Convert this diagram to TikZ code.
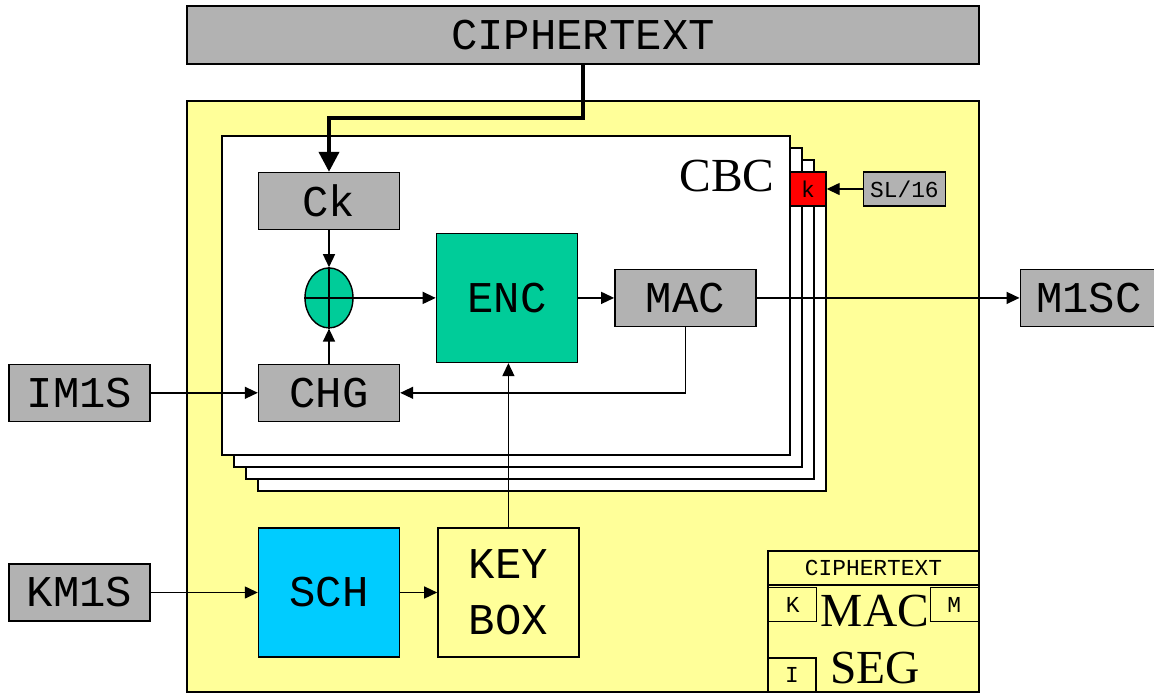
\documentclass[tikz,border=0pt]{standalone}
\usepackage{fontspec}
\setmainfont{Liberation Serif}
\setmonofont{Liberation Mono}
\usetikzlibrary{arrows.meta,positioning,shapes.geometric}
\definecolor{boxgray}{HTML}{B2B2B2}
\definecolor{panelyel}{HTML}{FFFF99}
\definecolor{enccol}{HTML}{00CC99}
\definecolor{schcol}{HTML}{00CCFF}
\newcommand{\bigtt}{\ttfamily\fontsize{25}{32}\selectfont}
\newcommand{\smalltt}{\ttfamily\fontsize{13}{15}\selectfont}
\newcommand{\bigrm}{\rmfamily\fontsize{27}{30}\selectfont}

\begin{document}
\begin{tikzpicture}[x=0.2mm, y=-0.2mm, line width=0.8pt,
  blk/.style={draw, fill=boxgray, minimum width=28.2mm, minimum height=11.4mm,
              font=\bigtt, inner sep=0pt},
  big/.style={draw, minimum width=28.2mm, minimum height=25.8mm,
              font=\bigtt, align=center, inner sep=0pt},
  tag/.style={draw, minimum height=6.8mm, font=\smalltt, inner sep=0pt},
  lbl/.style={font=\bigrm, inner sep=0pt},
  frame/.style={draw, fill=white},
  ar/.style={-{Triangle[length=2.6mm, width=2.4mm]}},
  thar/.style={-{Triangle[length=4mm, width=4mm]}, line width=2.3pt}]
\useasboundingbox (0,0) rectangle (1154,693);
\node[blk, minimum width=158.4mm, minimum height=11.6mm] (ct) at (583,35) {CIPHERTEXT};
\node[draw, fill=panelyel, minimum width=158.4mm, minimum height=118.2mm] (panel) at (583,396.5) {};
\foreach \i in {3,2,1,0}{\draw[frame] (222+12*\i,136+12*\i) rectangle ++(568,319);}
\node[lbl, anchor=base east] (cbc) at (775,191) {CBC};
\node[tag, fill=red, minimum width=7.2mm] (kk) at (808,189) {k};
\node[tag, fill=boxgray, minimum width=16.4mm, right=7.2mm of kk] (sl) {SL/16};
\node[blk] (ck) at (329,201) {Ck};
\node[draw, ellipse, fill=enccol, minimum width=9.6mm, minimum height=12mm,
      inner sep=0pt, below=7.4mm of ck] (xor) {};
\draw (xor.north) -- (xor.south) (xor.west) -- (xor.east);
\node[big, fill=enccol, right=16.4mm of xor] (enc) {ENC};
\node[blk, right=7.2mm of enc] (mac) {MAC};
\node[blk, minimum width=27.4mm, right=52.6mm of mac] (m1sc) {M1SC};
\node[blk, below=7mm of xor] (chg) {CHG};
\node[blk, left=21.4mm of chg] (im1s) {IM1S};
\node[big, fill=schcol] (sch) at (329,592.5) {SCH};
\node[big, fill=panelyel, right=7.4mm of sch] (keybox) {KEY\\BOX};
\node[blk, left=21.4mm of sch] (km1s) {KM1S};
\node[draw, fill=panelyel, minimum width=42.2mm, minimum height=28.2mm] (seg) at (873.5,621.5) {};
\node[tag, minimum width=42.2mm, anchor=north] (segct) at (seg.north) {CIPHERTEXT};
\node[tag, minimum width=9.6mm, anchor=north west] (segk) at (768,587) {K};
\node[tag, minimum width=9.6mm, anchor=north east] (segm) at (979,587) {M};
\node[tag, minimum width=9.6mm, anchor=south west] (segi) at (seg.south west) {I};
\node[lbl] (segmac) at (875,611) {MAC};
\node[lbl] (segseg) at (875,668) {SEG};
\coordinate (ctbend) at (329,118);
\draw[thar] (ct.south) |- (ctbend) -- (ck.north);
\draw[ar] (ck.south) -- (xor.north);
\draw[ar] (chg.north) -- (xor.south);
\draw[ar] (xor.east) -- (enc.west);
\draw[ar] (enc.east) -- (mac.west);
\draw[ar] (mac.east) -- (m1sc.west);
\draw[ar] (mac.south) |- (chg.east);
\draw[ar] (im1s.east) -- (chg.west);
\draw[ar] (km1s) -- (sch);
\draw[ar] (sch) -- (keybox);
\draw[ar] (keybox.north) -- (keybox.north |- enc.south);
\draw[ar] (sl) -- (kk);
\end{tikzpicture}
\end{document}
